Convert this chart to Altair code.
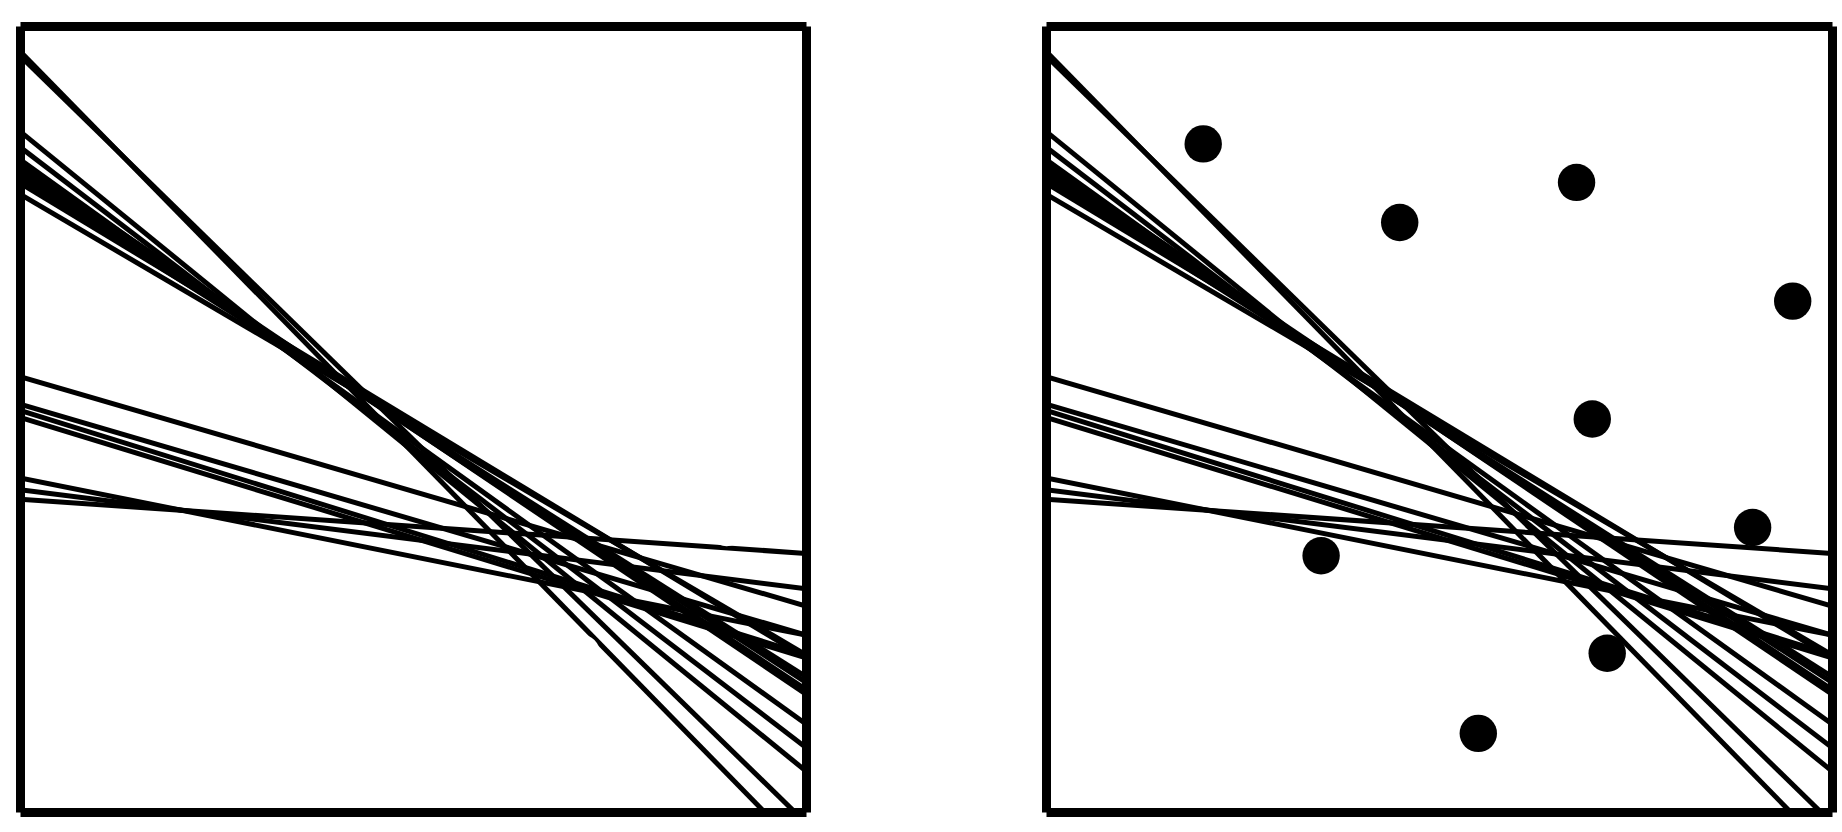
import altair as alt
import pandas as pd

# Lines: y value at the left edge (x=0) and at the right edge (x=1) of the unit square
line_left = [0.968, 0.962, 0.866, 0.846, 0.830, 0.824, 0.818, 0.812, 0.806, 0.800, 0.786,
             0.554, 0.519, 0.511, 0.502, 0.425, 0.410, 0.398]
line_right = [-0.054, -0.014, 0.052, 0.082, 0.112, 0.150, 0.156, 0.165, 0.172, 0.196, 0.200,
              0.262, 0.225, 0.200, 0.196, 0.225, 0.284, 0.329]

# Points
point_x = [0.200, 0.450, 0.675, 0.950, 0.695, 0.899, 0.350, 0.714, 0.550]
point_y = [0.850, 0.750, 0.801, 0.650, 0.500, 0.362, 0.326, 0.202, 0.100]

lines = pd.DataFrame({
    "line": list(range(len(line_left))),
    "x_start": [0.0] * len(line_left),
    "x_end": [1.0] * len(line_left),
    "y_start": line_left,
    "y_end": line_right,
})
pts = pd.DataFrame({"x": point_x, "y": point_y})

xs = alt.Scale(domain=[0, 1], nice=False, zero=False)
ys = alt.Scale(domain=[0, 1], nice=False, zero=False)


def panel(point_color):
    rules = alt.Chart(lines).mark_rule(strokeWidth=5, color="black", clip=True,
                                       strokeCap="butt").encode(
        x=alt.X("x_start:Q", scale=xs, axis=alt.Axis(orient="top")),
        x2="x_end:Q",
        y=alt.Y("y_start:Q", scale=ys, axis=alt.Axis(orient="right")),
        y2="y_end:Q",
        detail="line:N",
    )
    dots = alt.Chart(pts).mark_circle(size=1400, opacity=1, color=point_color).encode(
        x=alt.X("x:Q", scale=xs, axis=alt.Axis(orient="bottom")),
        y=alt.Y("y:Q", scale=ys, axis=alt.Axis(orient="left")),
    )
    return alt.layer(rules, dots).resolve_axis(x="independent", y="independent").properties(
        width=786, height=786)


chart = alt.hconcat(panel("white"), panel("black"), spacing=240, bounds="flush").properties(
    padding={"left": 20, "top": 26, "right": 8, "bottom": 10},
    background="white",
).configure_view(stroke=None).configure_axis(
    domain=True, domainColor="black", domainWidth=9, domainCap="butt",
    ticks=False, labels=False, grid=False, title=None,
)

chart.save("out.html", embed_options={"renderer": "svg", "actions": False})
